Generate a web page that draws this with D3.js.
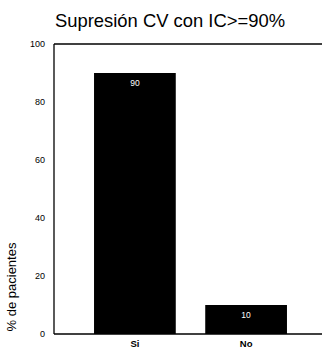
<!DOCTYPE html>
<html>
<head>
<meta charset="utf-8">
<script src="https://cdn.jsdelivr.net/npm/d3@7"></script>
<style>
  html, body { margin: 0; padding: 0; background: #fff; }
  svg { display: block; }
</style>
</head>
<body>
<script>
// Patients reaching viral-load suppression with adherence >= 90%
const categories = ["Si", "No"];
const values = [90, 10];
const yTicks = [0, 20, 40, 60, 80, 100];
const title = "Supresión CV con IC>=90%";
const yLabel = "% de pacientes";

const W = 323, H = 349;
const plotLeft = 54, plotRight = 322, plotTop = 44, plotBottom = 334;

const svg = d3.select("body").append("svg")
  .attr("width", W).attr("height", H)
  .style("font-family", "'Liberation Sans', Arial, sans-serif");

const x = d3.scaleBand().domain(categories)
  .range([plotLeft, 327]).paddingInner(0.265).paddingOuter(0.36);
const y = d3.scaleLinear().domain([0, 100]).range([plotBottom, plotTop]);

// Title
svg.append("text")
  .attr("x", 170).attr("y", 27)
  .attr("text-anchor", "middle")
  .style("font-size", "18.4px")
  .text(title);

// Bars
svg.selectAll("rect.bar").data(values).join("rect")
  .attr("class", "bar")
  .attr("x", (d, i) => x(categories[i]))
  .attr("width", x.bandwidth())
  .attr("y", d => y(d))
  .attr("height", d => y(0) - y(d))
  .attr("fill", "#000");

// Value labels inside the bars
svg.selectAll("text.val").data(values).join("text")
  .attr("class", "val")
  .attr("x", (d, i) => x(categories[i]) + x.bandwidth() / 2)
  .attr("y", d => y(d) + 13)
  .attr("text-anchor", "middle")
  .attr("fill", "#fff")
  .style("font-size", "8.5px")
  .text(d => d);

// Frame: left, top and bottom lines
const frame = svg.append("g").attr("stroke", "#000").attr("stroke-width", 1.3);
frame.append("line").attr("x1", plotLeft).attr("x2", plotLeft).attr("y1", plotTop).attr("y2", plotBottom);
frame.append("line").attr("x1", plotLeft).attr("x2", plotRight).attr("y1", plotTop).attr("y2", plotTop);
frame.append("line").attr("x1", plotLeft).attr("x2", plotRight).attr("y1", plotBottom).attr("y2", plotBottom);

// Y axis tick labels
const yAxis = d3.axisLeft(y).tickValues(yTicks).tickSize(0).tickPadding(9);
const gy = svg.append("g").attr("transform", `translate(${plotLeft},0)`).call(yAxis);
gy.select(".domain").remove();
gy.selectAll("text").style("font-size", "9px")
  .style("font-family", "'Liberation Sans', Arial, sans-serif").attr("fill", "#000");

// X axis category labels
const xAxis = d3.axisBottom(x).tickSize(0).tickPadding(0);
const gx = svg.append("g").attr("transform", `translate(0,${plotBottom})`).call(xAxis);
gx.select(".domain").remove();
gx.selectAll("text").attr("y", 13).attr("dy", null)
  .style("font-size", "9.5px").style("font-weight", "bold")
  .style("font-family", "'Liberation Sans', Arial, sans-serif").attr("fill", "#000");

// Y axis title
svg.append("text")
  .attr("transform", "translate(15.5,287) rotate(-90)")
  .attr("text-anchor", "middle")
  .style("font-size", "13px")
  .text(yLabel);
</script>
</body>
</html>
